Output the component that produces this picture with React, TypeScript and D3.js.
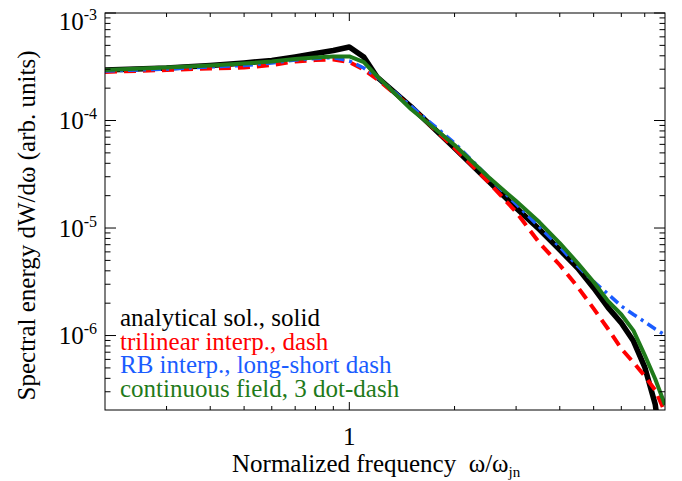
import React from 'react'
import * as d3 from 'd3'

// normalized frequency samples (omega / omega_jn)
const freq = [0.2, 0.3, 0.4, 0.5, 0.6, 0.7, 0.8, 0.9, 1.0, 1.1, 1.2, 1.5, 2, 2.5, 3, 3.5, 4, 4.5, 5, 5.5, 6, 6.5, 7, 7.5, 8]

// spectral energy (arb. units)
const analytical = [2.95e-4, 3.08e-4, 3.25e-4, 3.43e-4, 3.62e-4, 3.9e-4, 4.2e-4, 4.48e-4, 4.83e-4, 3.9e-4, 2.54e-4, 1.35e-4, 5.55e-5, 2.74e-5, 1.54e-5, 9.68e-6, 6.27e-6, 4.24e-6, 2.77e-6, 1.82e-6, 1.31e-6, 8.89e-7, 5.09e-7, 2.3e-7, 5e-8]
const trilinear = [2.83e-4, 2.95e-4, 3.05e-4, 3.11e-4, 3.28e-4, 3.54e-4, 3.65e-4, 3.69e-4, 3.5e-4, 2.98e-4, 2.43e-4, 1.34e-4, 5.55e-5, 2.68e-5, 1.41e-5, 7.25e-6, 4.53e-6, 2.83e-6, 1.78e-6, 1.15e-6, 7.55e-7, 5.61e-7, 4.2e-7, 3.11e-7, 1.94e-7]
const rbInterp = [2.89e-4, 3.01e-4, 3.15e-4, 3.25e-4, 3.43e-4, 3.65e-4, 3.77e-4, 3.86e-4, 3.58e-4, 3.08e-4, 2.54e-4, 1.36e-4, 6.18e-5, 2.98e-5, 1.67e-5, 1.02e-5, 6.66e-6, 4.43e-6, 3.17e-6, 2.43e-6, 1.88e-6, 1.57e-6, 1.34e-6, 1.15e-6, 1.01e-6]
const continuous = [2.95e-4, 3.11e-4, 3.25e-4, 3.39e-4, 3.54e-4, 3.73e-4, 3.86e-4, 3.94e-4, 3.94e-4, 3.5e-4, 2.59e-4, 1.28e-4, 5.92e-5, 2.98e-5, 1.78e-5, 1.13e-5, 7.25e-6, 4.72e-6, 3.15e-6, 2.09e-6, 1.57e-6, 1.11e-6, 6.59e-7, 3.94e-7, 2.26e-7]

const legendLabels = ['analytical sol., solid', 'trilinear interp., dash', 'RB interp., long-short dash', 'continuous field, 3 dot-dash']
const yMajor = [1e-3, 1e-4, 1e-5, 1e-6]
const xMajor = [1]

const W = 682
const H = 481
const L = 105, R = 665, T = 13, B = 410
const font = "'Liberation Serif', 'Times New Roman', Tinos, 'Noto Serif', 'DejaVu Serif', FreeSerif, Times, serif"

const series = [
  { vals: analytical, color: '#000000', width: 5.5, dash: undefined },
  { vals: trilinear, color: '#ff0000', width: 4, dash: '12 7' },
  { vals: rbInterp, color: '#1a5cff', width: 3.5, dash: '10 5 3 5' },
  { vals: continuous, color: '#1f7a1a', width: 4, dash: undefined },
]

export default function App() {
  const x = d3.scaleLog().domain([0.2, 8]).range([L, R])
  const y = d3.scaleLog().domain([2.03e-7, 1e-3]).range([B, T])

  const line = (vals: number[]) =>
    d3.line<number>()
      .x((_, i) => x(freq[i]))
      .y(d => y(d))(vals) || ''

  const yMinor: number[] = []
  for (let e = -7; e <= -4; e++) {
    for (let m = 2; m <= 9; m++) {
      const v = m * Math.pow(10, e)
      if (v > 2.03e-7 && v < 1e-3) yMinor.push(v)
    }
  }
  const xMinor: number[] = []
  for (let e = -1; e <= 0; e++) {
    for (let m = 2; m <= 9; m++) {
      const v = m * Math.pow(10, e)
      if (v > 0.2 && v < 8) xMinor.push(v)
    }
  }

  const txt = { fontFamily: font }

  return (
    <svg width={W} height={H} style={{ position: 'absolute', left: 0, top: 0, background: '#fff' }}>
      <defs>
        <clipPath id="plot">
          <rect x={L} y={T} width={R - L} height={B - T} />
        </clipPath>
      </defs>

      <g clipPath="url(#plot)" fill="none">
        {series.map((s, i) => (
          <path key={i} d={line(s.vals)} stroke={s.color} strokeWidth={s.width}
            strokeDasharray={s.dash} strokeLinejoin="round" />
        ))}
      </g>

      {/* frame and ticks */}
      <g stroke="#000" strokeWidth={1}>
        <rect x={L} y={T} width={R - L} height={B - T} fill="none" />
        {yMajor.map(v => (
          <g key={'ym' + v}>
            <line x1={L} x2={L + 11} y1={y(v)} y2={y(v)} />
            <line x1={R} x2={R - 11} y1={y(v)} y2={y(v)} />
          </g>
        ))}
        {yMinor.map(v => (
          <g key={'yn' + v}>
            <line x1={L} x2={L + 5.5} y1={y(v)} y2={y(v)} />
            <line x1={R} x2={R - 5.5} y1={y(v)} y2={y(v)} />
          </g>
        ))}
        {xMajor.map(v => (
          <g key={'xm' + v}>
            <line x1={x(v)} x2={x(v)} y1={B} y2={B - 8} />
            <line x1={x(v)} x2={x(v)} y1={T} y2={T + 8} />
          </g>
        ))}
        {xMinor.map(v => (
          <g key={'xn' + v}>
            <line x1={x(v)} x2={x(v)} y1={B} y2={B - 4} />
            <line x1={x(v)} x2={x(v)} y1={T} y2={T + 4} />
          </g>
        ))}
      </g>

      {/* y tick labels */}
      {yMajor.map(v => (
        <text key={'yl' + v} x={97} y={Math.max(y(v), 21) + 8.5} textAnchor="end" fontSize={25} fill="#000" style={txt}>
          10<tspan fontSize={16} dy={-10}>{String(Math.round(Math.log10(v)))}</tspan>
        </text>
      ))}

      {/* x tick labels */}
      {xMajor.map(v => (
        <text key={'xl' + v} x={x(v)} y={445} textAnchor="middle" fontSize={25} fill="#000" style={txt}>{v}</text>
      ))}

      {/* axis titles */}
      <text x={232} y={472} fontSize={25} fill="#000" style={{ ...txt, whiteSpace: 'pre' }}>
        {'Normalized frequency  \u03c9/\u03c9'}<tspan fontSize={15} dy={5}>jn</tspan>
      </text>
      <text transform="translate(35,225.5) rotate(-90)" textAnchor="middle" fontSize={25} fill="#000" style={txt}>
        Spectral energy dW/d{'\u03c9'} (arb. units)
      </text>

      {/* legend */}
      {legendLabels.map((t, i) => (
        <text key={t} x={120} y={326 + i * 23.5} fontSize={25} fill={series[i].color} style={txt}>{t}</text>
      ))}
    </svg>
  )
}
